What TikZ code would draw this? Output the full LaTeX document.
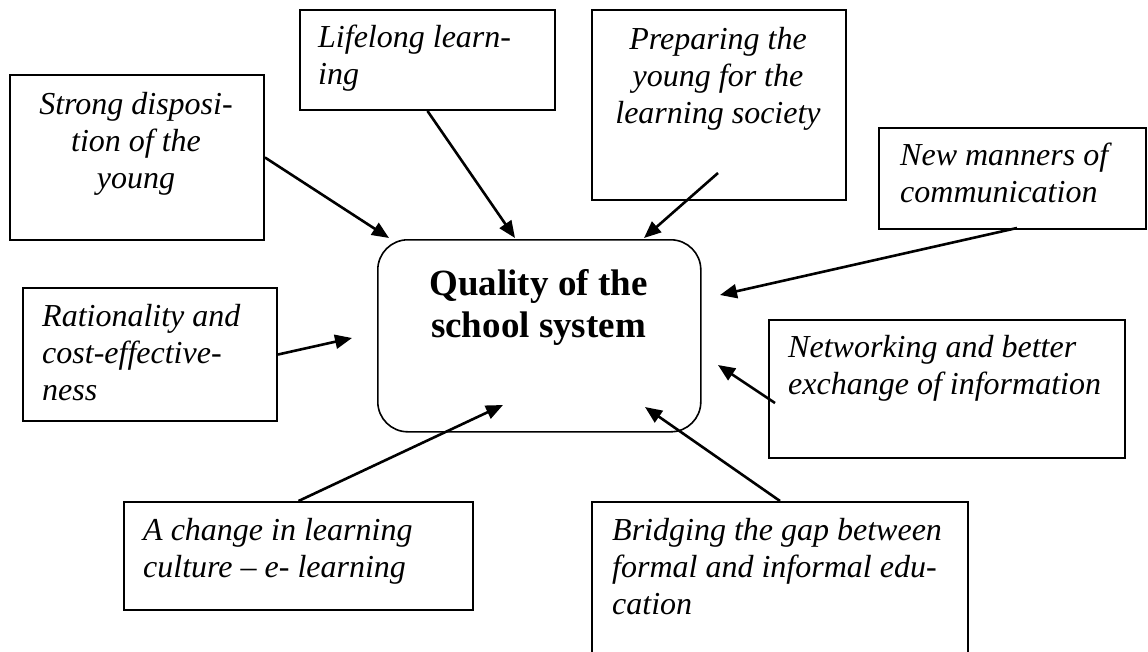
\documentclass[tikz,border=0pt]{standalone}
\usepackage{fontspec}
\setmainfont{Liberation Serif}
\usetikzlibrary{arrows.meta,calc}
\tikzset{
  box/.style={draw, line width=2pt, inner sep=0pt, anchor=north west},
  ctrbox/.style={draw, line width=1.6pt, inner sep=0pt, anchor=north west, rounded corners=30pt},
  txt/.style={font=\fontsize{32}{37}\selectfont\itshape, inner sep=0pt},
  ctrtxt/.style={font=\fontsize{37}{42.5}\selectfont\bfseries, inner sep=0pt, align=center, anchor=base},
  arr/.style={-{Triangle[length=17pt,width=14pt]}, line width=2.6pt},
}
\begin{document}
\begin{tikzpicture}[x=1pt,y=-1pt]
\useasboundingbox (0,0) rectangle (1148,651);
\clip (0,0) rectangle (1148,651);
\fill[white] (0,0) rectangle (1148,651);

% boxes
\node[box, minimum width=254pt, minimum height=165pt] (strong) at (9,74) {};
\node[box, minimum width=255pt, minimum height=100pt] (life) at (299,9) {};
\node[box, minimum width=254pt, minimum height=190pt] (prep) at (591,9) {};
\node[box, minimum width=267pt, minimum height=101pt] (newm) at (878,127) {};
\node[box, minimum width=254pt, minimum height=133pt] (rat) at (22,287) {};
\node[ctrbox, minimum width=323pt, minimum height=192pt] (ctr) at (377,239) {};
\node[box, minimum width=356pt, minimum height=138pt] (netw) at (768,319) {};
\node[box, minimum width=349pt, minimum height=108pt] (chg) at (123,501) {};
\node[box, minimum width=376pt, minimum height=180pt] (brg) at (591,501) {};

% texts (anchor base = baseline of the last line)
\node[txt, align=center, anchor=base] (strongT) at (136,188) {Strong disposi-\\tion of the\\young};
\node[txt, align=left, anchor=base west] (lifeT) at (318,84) {Lifelong learn-\\ing};
\node[txt, align=center, anchor=base] (prepT) at (718,123) {Preparing the\\young for the\\learning society};
\node[txt, align=left, anchor=base west] (newmT) at (900,202) {New manners of\\communication};
\node[txt, align=left, anchor=base west] (ratT) at (42,400) {Rationality and\\cost-effective-\\ness};
\node[txt, align=left, anchor=base west] (netwT) at (788,394) {Networking and better\\exchange of information};
\node[txt, align=left, anchor=base west] (chgT) at (143,577) {A change in learning\\culture -- e- learning};
\node[txt, align=left, anchor=base west] (brgT) at (612,614) {Bridging the gap between\\formal and informal edu-\\cation};
\node[ctrtxt] (ctrT) at (538.5,337.5) {Quality of the\\school system};

% arrow ends
\coordinate (t1) at (389,238);
\coordinate (t2) at (515,238);
\coordinate (t3) at (644,238);
\coordinate (t4) at (720,295);
\coordinate (t5) at (352,338);
\coordinate (t6) at (718,365);
\coordinate (t7) at (503,405);
\coordinate (t8) at (645,407);
\coordinate (s3) at (718,173);
\coordinate (s4) at (1017,228);
\coordinate (s6) at (775,403);

% connectors
\draw[arr] (strong.east) -- (t1);
\draw[arr] (life.south) -- (t2);
\draw[arr] (s3) -- (t3);
\draw[arr] (s4) -- (t4);
\draw[arr] (rat.east) -- (t5);
\draw[arr] (s6) -- (t6);
\draw[arr] (chg.north) -- (t7);
\draw[arr] (brg.north) -- (t8);
\end{tikzpicture}
\end{document}
